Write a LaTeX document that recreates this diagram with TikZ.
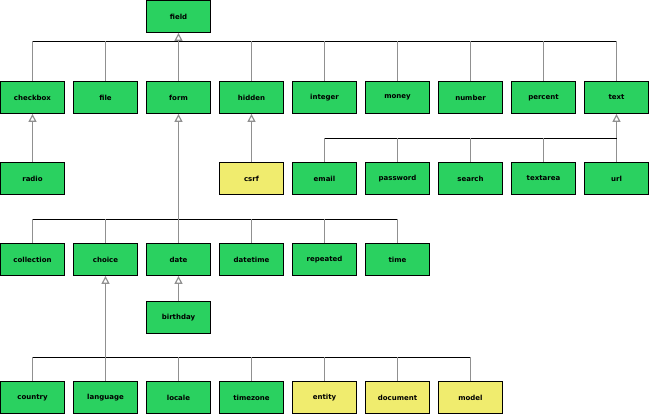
\documentclass[tikz,border=0pt]{standalone}
\usepackage{fontspec}
\setmainfont{DejaVu Sans}
\usetikzlibrary{arrows.meta}
\definecolor{gr}{HTML}{2AD160}
\definecolor{ye}{HTML}{F0EC6E}
\definecolor{ln}{HTML}{909090}
\begin{document}
\begin{tikzpicture}[x=1pt,y=-1pt,
 box/.style={draw=black,fill=gr,minimum width=64pt,minimum height=32pt,inner sep=0pt,font=\bfseries\fontsize{7}{8}\selectfont,line width=0.8pt},
 yb/.style={box,fill=ye},
 inh/.style={draw=ln,line width=1.2pt,-{Triangle[open,width=8pt,length=8pt,fill=white]}},
 lk/.style={draw=ln,line width=1.2pt},
 bus/.style={draw=black,line width=0.8pt}]
\useasboundingbox (0,0) rectangle (650,415);
\node[box] (field) at (178.5,16.5) {field};
\foreach \n [count=\i from 0] in {checkbox,file,form,hidden,integer,money,number,percent,text}
  \node[box] (\n) at (32.5+73*\i,97.5) {\n};
\node[box] (radio) at (32.5,178.5) {radio};
\node[yb] (csrf) at (251.5,178.5) {csrf};
\foreach \n [count=\i from 4] in {email,password,search,textarea,url}
  \node[box] (\n) at (32.5+73*\i,178.5) {\n};
\foreach \n [count=\i from 0] in {collection,choice,date,datetime,repeated,time}
  \node[box] (\n) at (32.5+73*\i,259.5) {\n};
\node[box] (birthday) at (178.5,317.5) {birthday};
\foreach \n [count=\i from 0] in {country,language,locale,timezone}
  \node[box] (\n) at (32.5+73*\i,397.5) {\n};
\foreach \n [count=\i from 4] in {entity,document,model}
  \node[yb] (\n) at (32.5+73*\i,397.5) {\n};
% field
\coordinate (b1) at (178.5,41);
\draw[inh] (b1) -- (field.south);
\draw[bus] (checkbox.north |- b1) -- (text.north |- b1);
\foreach \n in {checkbox,file,hidden,integer,money,number,percent,text}
  \draw[lk] (\n.north |- b1) -- (\n.north);
\draw[lk] (b1) -- (form.north);
% checkbox, hidden
\draw[inh] (radio.north) -- (checkbox.south);
\draw[inh] (csrf.north) -- (hidden.south);
% text
\coordinate (b2) at (616.5,138);
\draw[inh] (url.north) -- (text.south);
\draw[bus] (email.north |- b2) -- (b2);
\foreach \n in {email,password,search,textarea}
  \draw[lk] (\n.north |- b2) -- (\n.north);
% form
\coordinate (b3) at (178.5,219);
\draw[inh] (b3) -- (form.south);
\draw[bus] (collection.north |- b3) -- (time.north |- b3);
\foreach \n in {collection,choice,date,datetime,repeated,time}
  \draw[lk] (\n.north |- b3) -- (\n.north);
% date
\draw[inh] (birthday.north) -- (date.south);
% choice
\coordinate (b4) at (105.5,357);
\draw[inh] (b4) -- (choice.south);
\draw[bus] (country.north |- b4) -- (model.north |- b4);
\foreach \n in {country,language,locale,timezone,entity,document,model}
  \draw[lk] (\n.north |- b4) -- (\n.north);
\end{tikzpicture}
\end{document}
